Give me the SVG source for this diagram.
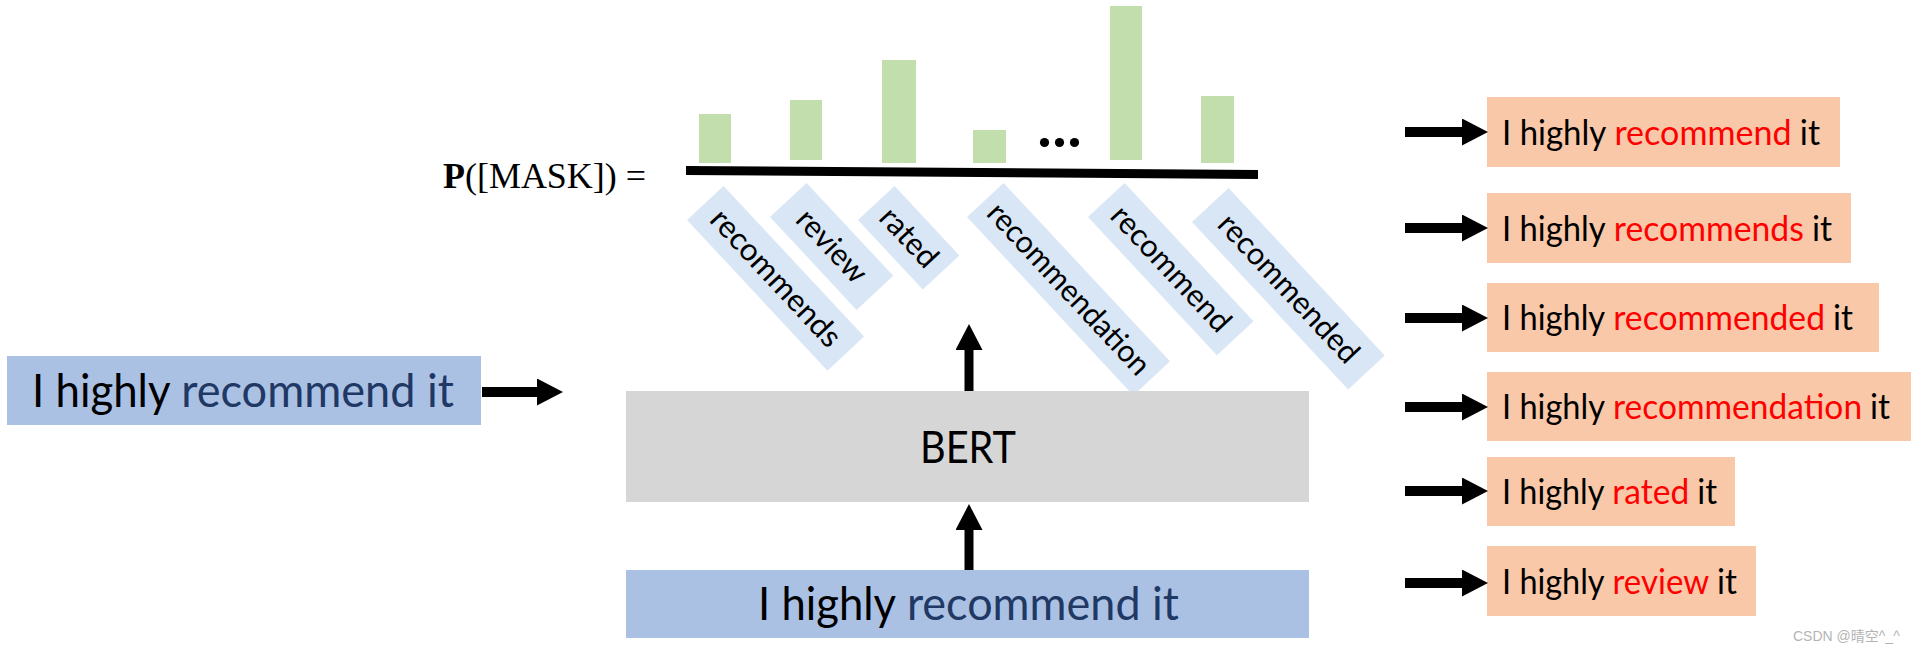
<svg xmlns="http://www.w3.org/2000/svg" width="1918" height="651" viewBox="0 0 1918 651">
<defs>
<style>
.sans{font-family:Lato,"Open Sans","Liberation Sans",sans-serif;}
.blue{fill:#abc1e4;}
.gray{fill:#d6d6d6;}
.salmon{fill:#f8c8a8;}
.bar{fill:#c2deac;}
.lbl{fill:#d9e6f5;}
.navy{fill:#1f3864;}
.red{fill:#ff0000;}
.blk{fill:#000;}
.out{font-size:35px;}
.big{font-size:47px;}
.lt{font-size:31px;fill:#000;}
.shaft{stroke:#000;stroke-linecap:butt;fill:none;}
</style>
<marker id="head" viewBox="0 0 26 27" markerWidth="26" markerHeight="27" refX="0" refY="13.5" orient="auto" markerUnits="userSpaceOnUse">
<path d="M0,0 L26,13.5 L0,27 Z" fill="#000"/>
</marker>
</defs>
<rect width="1918" height="651" fill="#fff"/>

<g id="distribution">
<text x="443" y="188" font-family="'Liberation Serif',serif" font-size="35" textLength="203" lengthAdjust="spacingAndGlyphs"><tspan font-weight="bold">P</tspan>([MASK]) =</text>
<rect class="bar" x="699" y="114" width="32" height="49"/>
<rect class="bar" x="790" y="100" width="32" height="60"/>
<rect class="bar" x="882" y="60" width="34" height="103"/>
<rect class="bar" x="973" y="130" width="33" height="33"/>
<circle cx="1044.5" cy="142.5" r="4.6" fill="#000"/>
<circle cx="1059.5" cy="142.5" r="4.6" fill="#000"/>
<circle cx="1074.5" cy="142.5" r="4.6" fill="#000"/>
<rect class="bar" x="1110" y="6" width="32" height="154"/>
<rect class="bar" x="1201" y="96" width="33" height="67"/>
<polygon points="686,166 1258,170 1258,179 686,175" fill="#000"/>
</g>

<g id="candidates" class="sans">
<g id="cand-recommends" transform="translate(687,220) rotate(47)"><rect class="lbl" x="0" y="-50" width="206" height="50"/><text class="lt" x="103" y="-15" text-anchor="middle" textLength="176" lengthAdjust="spacingAndGlyphs">recommends</text></g>
<g id="cand-review" transform="translate(770,217) rotate(47)"><rect class="lbl" x="0" y="-50" width="127" height="50"/><text class="lt" x="63.5" y="-15" text-anchor="middle" textLength="88" lengthAdjust="spacingAndGlyphs">review</text></g>
<g id="cand-rated" transform="translate(858,220) rotate(47)"><rect class="lbl" x="0" y="-50" width="95" height="50"/><text class="lt" x="47.5" y="-15" text-anchor="middle" textLength="70" lengthAdjust="spacingAndGlyphs">rated</text></g>
<g id="cand-recommendation" transform="translate(967,217) rotate(47)"><rect class="lbl" x="0" y="-50" width="244" height="50"/><text class="lt" x="122" y="-15" text-anchor="middle" textLength="223" lengthAdjust="spacingAndGlyphs">recommendation</text></g>
<g id="cand-recommend" transform="translate(1088,217) rotate(47)"><rect class="lbl" x="0" y="-50" width="189" height="50"/><text class="lt" x="94.5" y="-15" text-anchor="middle" textLength="160" lengthAdjust="spacingAndGlyphs">recommend</text></g>
<g id="cand-recommended" transform="translate(1192,222) rotate(47)"><rect class="lbl" x="0" y="-50" width="229" height="50"/><text class="lt" x="114.5" y="-15" text-anchor="middle" textLength="191" lengthAdjust="spacingAndGlyphs">recommended</text></g>
</g>

<g id="input-left" class="sans">
<rect class="blue" x="7" y="356" width="474" height="69"/>
<text class="big blk" x="32" y="407" textLength="138.5" lengthAdjust="spacingAndGlyphs">I highly</text>
<text class="big navy" x="181.2" y="407" textLength="272.8" lengthAdjust="spacingAndGlyphs">recommend it</text>
</g>

<g id="bert" class="sans">
<rect class="gray" x="626" y="391" width="683" height="111"/>
<text x="968" y="463" font-size="45" text-anchor="middle" textLength="96" lengthAdjust="spacingAndGlyphs">BERT</text>
</g>

<g id="input-bottom" class="sans">
<rect class="blue" x="626" y="570" width="683" height="68"/>
<text class="big blk" x="758" y="620" textLength="138.1" lengthAdjust="spacingAndGlyphs">I highly</text>
<text class="big navy" x="906.9" y="620" textLength="272.1" lengthAdjust="spacingAndGlyphs">recommend it</text>
</g>

<g id="outputs" class="sans">
<g id="out-recommend"><rect class="salmon" x="1487" y="97" width="353" height="70"/>
<text class="out blk" x="1502" y="144.5" textLength="104.3" lengthAdjust="spacingAndGlyphs">I highly</text>
<text class="out red" x="1614.4" y="144.5" textLength="177.2" lengthAdjust="spacingAndGlyphs">recommend</text>
<text class="out blk" x="1799.8" y="144.5" textLength="20.2" lengthAdjust="spacingAndGlyphs">it</text></g>
<g id="out-recommends"><rect class="salmon" x="1487" y="193" width="364" height="70"/>
<text class="out blk" x="1502" y="240.5" textLength="103.7" lengthAdjust="spacingAndGlyphs">I highly</text>
<text class="out red" x="1613.8" y="240.5" textLength="190.1" lengthAdjust="spacingAndGlyphs">recommends</text>
<text class="out blk" x="1811.9" y="240.5" textLength="20.1" lengthAdjust="spacingAndGlyphs">it</text></g>
<g id="out-recommended"><rect class="salmon" x="1487" y="283" width="392" height="69"/>
<text class="out blk" x="1502" y="330" textLength="103.2" lengthAdjust="spacingAndGlyphs">I highly</text>
<text class="out red" x="1613.3" y="330" textLength="211.7" lengthAdjust="spacingAndGlyphs">recommended</text>
<text class="out blk" x="1833" y="330" textLength="20" lengthAdjust="spacingAndGlyphs">it</text></g>
<g id="out-recommendation"><rect class="salmon" x="1487" y="372" width="424" height="69"/>
<text class="out blk" x="1502" y="419" textLength="103" lengthAdjust="spacingAndGlyphs">I highly</text>
<text class="out red" x="1613" y="419" textLength="249.1" lengthAdjust="spacingAndGlyphs">recommendation</text>
<text class="out blk" x="1870.1" y="419" textLength="20" lengthAdjust="spacingAndGlyphs">it</text></g>
<g id="out-rated"><rect class="salmon" x="1487" y="457" width="248" height="69"/>
<text class="out blk" x="1502" y="504" textLength="102.4" lengthAdjust="spacingAndGlyphs">I highly</text>
<text class="out red" x="1612.3" y="504" textLength="76.9" lengthAdjust="spacingAndGlyphs">rated</text>
<text class="out blk" x="1697.2" y="504" textLength="19.8" lengthAdjust="spacingAndGlyphs">it</text></g>
<g id="out-review"><rect class="salmon" x="1487" y="546" width="269" height="70"/>
<text class="out blk" x="1502" y="593.5" textLength="102.6" lengthAdjust="spacingAndGlyphs">I highly</text>
<text class="out red" x="1612.5" y="593.5" textLength="96.6" lengthAdjust="spacingAndGlyphs">review</text>
<text class="out blk" x="1717.1" y="593.5" textLength="19.9" lengthAdjust="spacingAndGlyphs">it</text></g>
</g>

<g id="connectors">
<line class="shaft" x1="482" y1="392" x2="537" y2="392" stroke-width="10" marker-end="url(#head)"/>
<line class="shaft" x1="969" y1="570" x2="969" y2="530" stroke-width="9" marker-end="url(#head)"/>
<line class="shaft" x1="969" y1="391" x2="969" y2="350" stroke-width="9" marker-end="url(#head)"/>
<line class="shaft" x1="1405" y1="132" x2="1462" y2="132" stroke-width="10" marker-end="url(#head)"/>
<line class="shaft" x1="1405" y1="228" x2="1462" y2="228" stroke-width="10" marker-end="url(#head)"/>
<line class="shaft" x1="1405" y1="318" x2="1462" y2="318" stroke-width="10" marker-end="url(#head)"/>
<line class="shaft" x1="1405" y1="407" x2="1462" y2="407" stroke-width="10" marker-end="url(#head)"/>
<line class="shaft" x1="1405" y1="491" x2="1462" y2="491" stroke-width="10" marker-end="url(#head)"/>
<line class="shaft" x1="1405" y1="583" x2="1462" y2="583" stroke-width="10" marker-end="url(#head)"/>
</g>

<text x="1793" y="641" font-family="'Liberation Sans','Noto Sans CJK SC',sans-serif" font-size="14" fill="#b4b4b4">CSDN @晴空^_^</text>
</svg>
